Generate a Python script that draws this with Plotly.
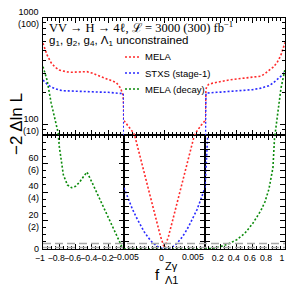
import math
import plotly.graph_objects as go

# ---------------- data ----------------
F_LEFT = [-1.0, -0.95, -0.9, -0.85, -0.8, -0.75, -0.7, -0.65, -0.6, -0.55, -0.5, -0.46,
          -0.4, -0.3, -0.2, -0.15, -0.1, -0.05, -0.03, -0.017, -0.01, -0.005]
MELA_LEFT = [580, 450, 380, 345, 325, 316, 312, 310, 310, 311, 313, 314,
             305, 285, 265, 258, 248, 222, 205, 190, 160, 108]
STXS_LEFT = [262, 240, 225, 216, 211, 208, 207, 206, 205, 205, 204, 204,
             203, 202, 201, 200, 199, 198, 197, 196, 195, 43]
DECAY_LEFT = [350, 262, 160, 108, 72, 52, 45, 43, 44, 47, 51, 54,
              47, 34.5, 22, 16, 10, 4, 1.5, 0.5, 0.1, 0.0]

F_MID = [-0.005, -0.0045, -0.004, -0.0035, -0.003, -0.0025, -0.002, -0.0015, -0.001, -0.0005, 0.0,
         0.0005, 0.001, 0.0015, 0.002, 0.0025, 0.003, 0.0035, 0.004, 0.0045, 0.005]
MELA_MID = [109, 98, 87, 76, 65, 54, 43, 31, 20, 9, 0.5,
            9, 20, 31, 43, 54, 65, 76, 87, 98, 109]
STXS_MID = [43, 35.5, 28.5, 22.5, 17, 12, 8, 4.6, 2.3, 0.7, 0.1,
            0.3, 1.5, 3.8, 7, 11, 16, 21.5, 27.5, 35, 43]
DECAY_MID = [0.0] * 21

F_RIGHT = [0.005, 0.01, 0.017, 0.03, 0.05, 0.1, 0.15, 0.2, 0.3, 0.4, 0.5, 0.6, 0.7,
           0.75, 0.8, 0.85, 0.9, 0.95, 1.0]
MELA_RIGHT = [108, 180, 215, 230, 238, 245, 250, 254, 262, 268, 275, 280, 285,
              300, 320, 345, 380, 450, 590]
STXS_RIGHT = [43, 190, 196, 198, 199, 200, 201, 202, 204, 206, 209, 213, 220,
              225, 232, 245, 262, 285, 315]
DECAY_RIGHT = [0.0, 0.0, 0.0, 0.05, 0.15, 0.5, 1.0, 1.7, 3.7, 6.5, 11, 18, 27,
               33, 42, 57, 110, 220, 330]

CL_LEVELS = [1.0, 3.84]

SERIES_NAMES = ["MELA", "STXS (stage-1)", "MELA (decay)"]
SERIES_COLORS = ["#ff2a2a", "#2a2aff", "#0a8a0a"]

X_TICKS_LEFT = [-1, -0.8, -0.6, -0.4, -0.2]
X_TICKTEXT_LEFT = ["−1", "−0.8", "−0.6", "−0.4", "−0.2"]
X_TICKS_MID = [0]
X_TICKTEXT_MID = ["0"]
X_EDGE_VALUES = [-0.005, 0.005]
X_EDGE_TEXT = ["−0.005", "0.005"]
X_TICKS_RIGHT = [0.2, 0.4, 0.6, 0.8, 1]
X_TICKTEXT_RIGHT = ["0.2", "0.4", "0.6", "0.8", "1"]

Y_TICKS_LOW = [0, 20, 40, 60]
Y_TICKTEXT_LOW = ["0", "20<br>(2)", "40<br>(4)", "60<br>(6)"]
Y_TICKS_HIGH = [100, 1000]
Y_TICKTEXT_HIGH = ["100<br>(10)", "1000<br>(100)"]

Y_BREAK = 80
Y_TOP = 1000

# ---------------- layout geometry ----------------
W, H = 291, 286
ML, MR, MT, MB = 43, 6, 18, 37
PW = W - ML - MR
PH = H - MT - MB
d1 = 81 / PW
d2 = 162 / PW
yb = 114 / PH

def px_x(px):
    return (px - ML) / PW

def px_y(py):
    return (H - MB - py) / PH

SANS = "Liberation Sans, Arial, sans-serif"
TICKFONT = dict(family=SANS, size=8.7, color="black")

fig = go.Figure()

panels = [
    (F_LEFT, [MELA_LEFT, STXS_LEFT, DECAY_LEFT], "x", "x4", "y2"),
    (F_MID, [MELA_MID, STXS_MID, DECAY_MID], "x2", "x5", "y2"),
    (F_RIGHT, [MELA_RIGHT, STXS_RIGHT, DECAY_RIGHT], "x3", "x6", "y3"),
]

for fx, series, xlow, xhigh, yhigh in panels:
    for vals, name, col in zip(series, SERIES_NAMES, SERIES_COLORS):
        line = dict(color=col, width=1.6, dash="2px,2px")
        fig.add_trace(go.Scatter(x=fx, y=vals, mode="lines", line=line, name=name,
                                 xaxis=xlow, yaxis="y", showlegend=False, hoverinfo="skip"))
        fig.add_trace(go.Scatter(x=fx, y=vals, mode="lines", line=line, name=name,
                                 xaxis=xhigh, yaxis=yhigh, showlegend=False, hoverinfo="skip"))

base_x = dict(showline=True, linecolor="black", linewidth=1, ticks="inside",
              ticklen=5, tickcolor="black", mirror="ticks", showgrid=False,
              zeroline=False, automargin=False, tickangle=0)
lbl_x = dict(tickfont=TICKFONT, ticklabelshift=-3, ticklabelstandoff=1)

def minor(dt, t0):
    return dict(ticks="inside", ticklen=3, dtick=dt, tick0=t0, tickcolor="black", showgrid=False)

LOG_MINOR = dict(ticks="inside", ticklen=3, tickcolor="black", tickmode="array",
                 tickvals=[90, 200, 300, 400, 500, 600, 700, 800, 900])

fig.update_layout(
    width=W, height=H,
    margin=dict(l=ML, r=MR, t=MT, b=MB, pad=0, autoexpand=False),
    paper_bgcolor="white", plot_bgcolor="white",
    showlegend=False,
    xaxis=dict(domain=[0, d1], range=[-1, -0.005], anchor="y",
               tickvals=X_TICKS_LEFT, ticktext=X_TICKTEXT_LEFT,
               minor=minor(0.05, -1), **lbl_x, **base_x),
    xaxis2=dict(domain=[d1, d2], range=[-0.005, 0.005], anchor="y",
                tickvals=X_TICKS_MID, ticktext=X_TICKTEXT_MID,
                minor=minor(0.0005, 0), **lbl_x, **base_x),
    xaxis3=dict(domain=[d2, 1], range=[0.005, 1], anchor="y",
                tickvals=X_TICKS_RIGHT, ticktext=X_TICKTEXT_RIGHT,
                minor=minor(0.05, 0), **lbl_x, **base_x),
    xaxis4=dict(domain=[0, d1], range=[-1, -0.005], anchor="y2",
                tickvals=X_TICKS_LEFT, showticklabels=False,
                minor=minor(0.05, -1), **base_x),
    xaxis5=dict(domain=[d1, d2], range=[-0.005, 0.005], anchor="y2",
                tickvals=[-0.005, 0, 0.005], showticklabels=False,
                minor=minor(0.0005, 0), **base_x),
    xaxis6=dict(domain=[d2, 1], range=[0.005, 1], anchor="y3",
                tickvals=X_TICKS_RIGHT, showticklabels=False,
                minor=minor(0.05, 0), **base_x),
    yaxis=dict(domain=[0, yb], range=[0, Y_BREAK], anchor="x",
               showline=True, linecolor="black", linewidth=1, mirror="allticks",
               ticks="inside", ticklen=5, tickcolor="black",
               tickvals=[0, 20, 40, 60, 80], showticklabels=False,
               minor=minor(5, 0), automargin=False,
               showgrid=False, zeroline=False),
    yaxis2=dict(domain=[yb, 1], type="log", range=[math.log10(Y_BREAK), math.log10(Y_TOP)],
                anchor="x4", side="left",
                showline=True, linecolor="black", linewidth=1,
                ticks="inside", ticklen=5, tickcolor="black",
                tickvals=Y_TICKS_HIGH, showticklabels=False, minor=LOG_MINOR,
                automargin=False, showgrid=False, zeroline=False),
    yaxis3=dict(domain=[yb, 1], type="log", range=[math.log10(Y_BREAK), math.log10(Y_TOP)],
                anchor="x6", side="right",
                showline=True, linecolor="black", linewidth=1,
                ticks="inside", ticklen=5, tickcolor="black",
                tickvals=Y_TICKS_HIGH, showticklabels=False, minor=LOG_MINOR,
                automargin=False, showgrid=False, zeroline=False),
)

# confidence-level reference lines
for lvl in CL_LEVELS:
    fig.add_shape(type="line", xref="paper", yref="y", x0=0, x1=1, y0=lvl, y1=lvl,
                  line=dict(color="#a8a8a8", width=1.5, dash="8px,4px"), layer="above")

ann = []
LBL = dict(family=SANS, size=9, color="black")
# y tick labels (3000 fb-1 value with 300 fb-1 value beneath)
for v, t in zip(Y_TICKS_LOW, Y_TICKTEXT_LOW):
    ann.append(dict(xref="paper", yref="y", x=-0.008, y=v, text=t, xanchor="right",
                    yanchor="middle", showarrow=False, font=LBL))
for v, t in zip(Y_TICKS_HIGH, Y_TICKTEXT_HIGH):
    ann.append(dict(xref="paper", yref="y2", x=-0.008, y=math.log10(v), text=t, xanchor="right",
                    yanchor="middle", showarrow=False, font=LBL))

# middle-panel edge labels
for v, t, sh in zip(X_EDGE_VALUES, X_EDGE_TEXT, [1, -12]):
    ann.append(dict(xref="x2", yref="paper", x=v, y=px_y(257), text=t, xanchor="center",
                    yanchor="middle", xshift=sh, showarrow=False, font=TICKFONT))

# header texts
ann.append(dict(xref="paper", yref="paper", x=px_x(47), y=px_y(27),
                text="VV → H → 4ℓ, ℒ = 3000 (300) fb<sup>−1</sup>",
                xanchor="left", yanchor="middle", showarrow=False,
                font=dict(family="Liberation Serif, Times New Roman, serif", size=12.5, color="black")))
ann.append(dict(xref="paper", yref="paper", x=px_x(47), y=px_y(41),
                text="g<sub>1</sub>, g<sub>2</sub>, g<sub>4</sub>, Λ<sub>1</sub> unconstrained",
                xanchor="left", yanchor="middle", showarrow=False,
                font=dict(family=SANS, size=11.5, color="black")))

# legend
for i, (name, col) in enumerate(zip(SERIES_NAMES, SERIES_COLORS)):
    ly = px_y(57 + 16 * i)
    fig.add_shape(type="line", xref="paper", yref="paper", x0=px_x(125), x1=px_x(140),
                  y0=ly, y1=ly, line=dict(color=col, width=1.6, dash="2px,2px"))
    ann.append(dict(xref="paper", yref="paper", x=px_x(143), y=ly, text=name,
                    xanchor="left", yanchor="middle", showarrow=False,
                    font=dict(family=SANS, size=9.5, color="black")))

# axis titles
ann.append(dict(xref="paper", yref="paper", x=px_x(16), y=px_y(124), text="−2 Δln L",
                textangle=-90, xanchor="center", yanchor="middle", showarrow=False,
                font=dict(family=SANS, size=17, color="black")))
ann.append(dict(xref="paper", yref="paper", x=px_x(162), y=px_y(274), text="f",
                xanchor="right", yanchor="middle", showarrow=False,
                font=dict(family=SANS, size=15, color="black")))
ann.append(dict(xref="paper", yref="paper", x=px_x(163), y=px_y(266), text="Zγ",
                xanchor="left", yanchor="middle", showarrow=False,
                font=dict(family=SANS, size=11, color="black")))
ann.append(dict(xref="paper", yref="paper", x=px_x(163), y=px_y(280), text="Λ1",
                xanchor="left", yanchor="middle", showarrow=False,
                font=dict(family=SANS, size=11, color="black")))

fig.update_layout(annotations=ann)
fig.write_html("out.html", config={"displayModeBar": False},
               post_script="document.body.style.margin='0px';")
